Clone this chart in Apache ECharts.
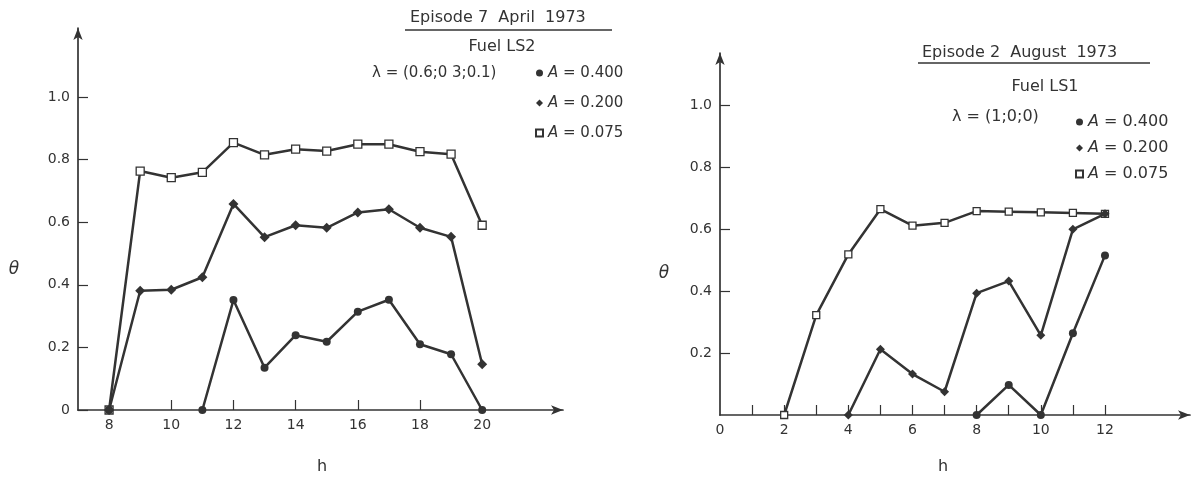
<!DOCTYPE html>
<html>
<head>
<meta charset="utf-8">
<script src="https://cdn.jsdelivr.net/npm/echarts@6/dist/echarts.min.js"></script>
<style>
  html, body { margin: 0; padding: 0; background: #fff; }
  #chart { width: 1192px; height: 477px; }
</style>
</head>
<body>
<div id="chart"></div>
<script>
// left panel: Episode 7, April 1973 (hours 8..20)
var leftHours = [8, 9, 10, 11, 12, 13, 14, 15, 16, 17, 18, 19, 20];
var left075 = [0, 0.763, 0.742, 0.759, 0.854, 0.815, 0.833, 0.827, 0.849, 0.849, 0.825, 0.817, 0.590];
var left200 = [0, 0.381, 0.384, 0.424, 0.658, 0.552, 0.590, 0.582, 0.631, 0.641, 0.582, 0.553, 0.146];
var left400 = [0, '-', '-', 0, 0.351, 0.135, 0.239, 0.218, 0.314, 0.352, 0.210, 0.178, 0];

// right panel: Episode 2, August 1973
var right075Hours = [2, 3, 4, 5, 6, 7, 8, 9, 10, 11, 12];
var right075 = [0, 0.322, 0.518, 0.664, 0.611, 0.620, 0.658, 0.656, 0.654, 0.652, 0.649];
var right200Hours = [4, 5, 6, 7, 8, 9, 10, 11, 12];
var right200 = [0, 0.212, 0.132, 0.075, 0.393, 0.432, 0.257, 0.599, 0.649];
var right400Hours = [8, 9, 10, 11, 12];
var right400 = [0, 0.097, 0, 0.264, 0.515];

var leftXLabels = [8, 10, 12, 14, 16, 18, 20];
var leftXTicks = [10, 12, 14, 16, 18];
var rightXLabels = [0, 2, 4, 6, 8, 10, 12];
var rightXTicks = [1, 2, 3, 4, 5, 6, 7, 8, 9, 10, 11, 12];
var leftYLabels = [0, 0.2, 0.4, 0.6, 0.8, 1.0];
var rightYLabels = [0.2, 0.4, 0.6, 0.8, 1.0];

var seriesNames = ['A = 0.400', 'A = 0.200', 'A = 0.075'];

var ink = '#333';
var font = 'DejaVu Sans';

function pairs(xs, ys) {
    return xs.map(function (x, i) { return [x, ys[i]]; });
}

function yLabel(v) {
    return v === 0 ? '0' : v.toFixed(1);
}

function makeX(gridIndex, min, max, labels, ticks) {
    return {
        type: 'value',
        gridIndex: gridIndex,
        min: min,
        max: max,
        splitLine: {show: false},
        axisLine: {
            show: true,
            symbol: ['none', 'arrow'],
            symbolSize: [7, 12],
            lineStyle: {color: ink, width: 1.7}
        },
        axisTick: {
            show: true,
            inside: true,
            length: 10,
            customValues: ticks,
            lineStyle: {color: ink, width: 1.2}
        },
        axisLabel: {
            customValues: labels,
            margin: 8,
            color: ink,
            fontFamily: font,
            fontSize: 14
        }
    };
}

function makeY(gridIndex, max, labels) {
    return {
        type: 'value',
        gridIndex: gridIndex,
        min: 0,
        max: max,
        splitLine: {show: false},
        axisLine: {
            show: true,
            symbol: ['none', 'arrow'],
            symbolSize: [7, 12],
            lineStyle: {color: ink, width: 1.7}
        },
        axisTick: {
            show: true,
            inside: true,
            length: 10,
            customValues: labels,
            lineStyle: {color: ink, width: 1.2}
        },
        axisLabel: {
            customValues: labels,
            formatter: yLabel,
            margin: 8,
            color: ink,
            fontFamily: font,
            fontSize: 14
        }
    };
}

function makeSeries(name, axis, data, symbol, size, open) {
    return {
        name: name,
        type: 'line',
        xAxisIndex: axis,
        yAxisIndex: axis,
        data: data,
        symbol: symbol,
        symbolSize: size,
        showAllSymbol: true,
        connectNulls: false,
        lineStyle: {color: ink, width: 2.5},
        itemStyle: open
            ? {color: '#fff', borderColor: ink, borderWidth: 1.3}
            : {color: ink, borderWidth: 0},
        emphasis: {disabled: true},
        z: open ? 3 : 4
    };
}

function makeLegend(left, top, gap, size) {
    return {
        orient: 'vertical',
        left: left,
        top: top,
        itemGap: gap,
        itemWidth: 7,
        itemHeight: 7,
        selectedMode: false,
        data: [
            {name: seriesNames[0], icon: 'circle'},
            {name: seriesNames[1], icon: 'diamond'},
            {name: seriesNames[2], icon: 'rect'}
        ],
        formatter: function (name) {
            return '{i|A}' + name.slice(1);
        },
        textStyle: {
            color: ink,
            fontFamily: font,
            fontSize: size,
            lineHeight: 18,
            rich: {
                i: {fontStyle: 'italic', fontFamily: font, fontSize: size, color: ink}
            }
        }
    };
}

function txt(x, y, s, size, align, italic) {
    return {
        type: 'text',
        x: x,
        y: y,
        style: {
            text: s,
            fill: ink,
            font: (italic ? 'italic ' : '') + size + 'px "' + font + '"',
            textAlign: align || 'left',
            textVerticalAlign: 'middle'
        }
    };
}

function rule(x1, x2, y) {
    return {
        type: 'line',
        shape: {x1: x1, y1: y, x2: x2, y2: y},
        style: {stroke: ink, lineWidth: 1.4}
    };
}

var chart = echarts.init(document.getElementById('chart'));

var option = {
    backgroundColor: '#fff',
    animation: false,
    grid: [
        {left: 78, top: 28, width: 485, height: 382},
        {left: 720, top: 53, width: 470, height: 362}
    ],
    xAxis: [
        makeX(0, 7, 22.6, leftXLabels, leftXTicks),
        makeX(1, 0, 14.65, rightXLabels, rightXTicks)
    ],
    yAxis: [
        makeY(0, 1.22, leftYLabels),
        makeY(1, 1.168, rightYLabels)
    ],
    legend: [
        makeLegend(530, 59, 12, 15),
        makeLegend(1070, 108, 8, 16)
    ],
    series: [
        makeSeries(seriesNames[2], 0, pairs(leftHours, left075), 'rect', 8, true),
        makeSeries(seriesNames[1], 0, pairs(leftHours, left200), 'diamond', 10, false),
        makeSeries(seriesNames[0], 0, pairs(leftHours, left400), 'circle', 8, false),
        makeSeries(seriesNames[2], 1, pairs(right075Hours, right075), 'rect', 7, true),
        makeSeries(seriesNames[1], 1, pairs(right200Hours, right200), 'diamond', 9, false),
        makeSeries(seriesNames[0], 1, pairs(right400Hours, right400), 'circle', 8, false)
    ],
    graphic: [
        txt(410, 18, 'Episode 7  April  1973', 16),
        rule(405, 612, 30),
        txt(502, 47, 'Fuel LS2', 16, 'center'),
        txt(372, 73, '\u03bb = (0.6;0 3;0.1)', 15),
        txt(14, 270, '\u03b8', 17, 'center', true),
        txt(322, 467, 'h', 16, 'center'),

        txt(922, 53, 'Episode 2  August  1973', 16),
        rule(918, 1150, 63),
        txt(1045, 87, 'Fuel LS1', 16, 'center'),
        txt(952, 117, '\u03bb = (1;0;0)', 16),
        txt(664, 274, '\u03b8', 17, 'center', true),
        txt(943, 467, 'h', 16, 'center')
    ]
};

chart.setOption(option);
</script>
</body>
</html>
